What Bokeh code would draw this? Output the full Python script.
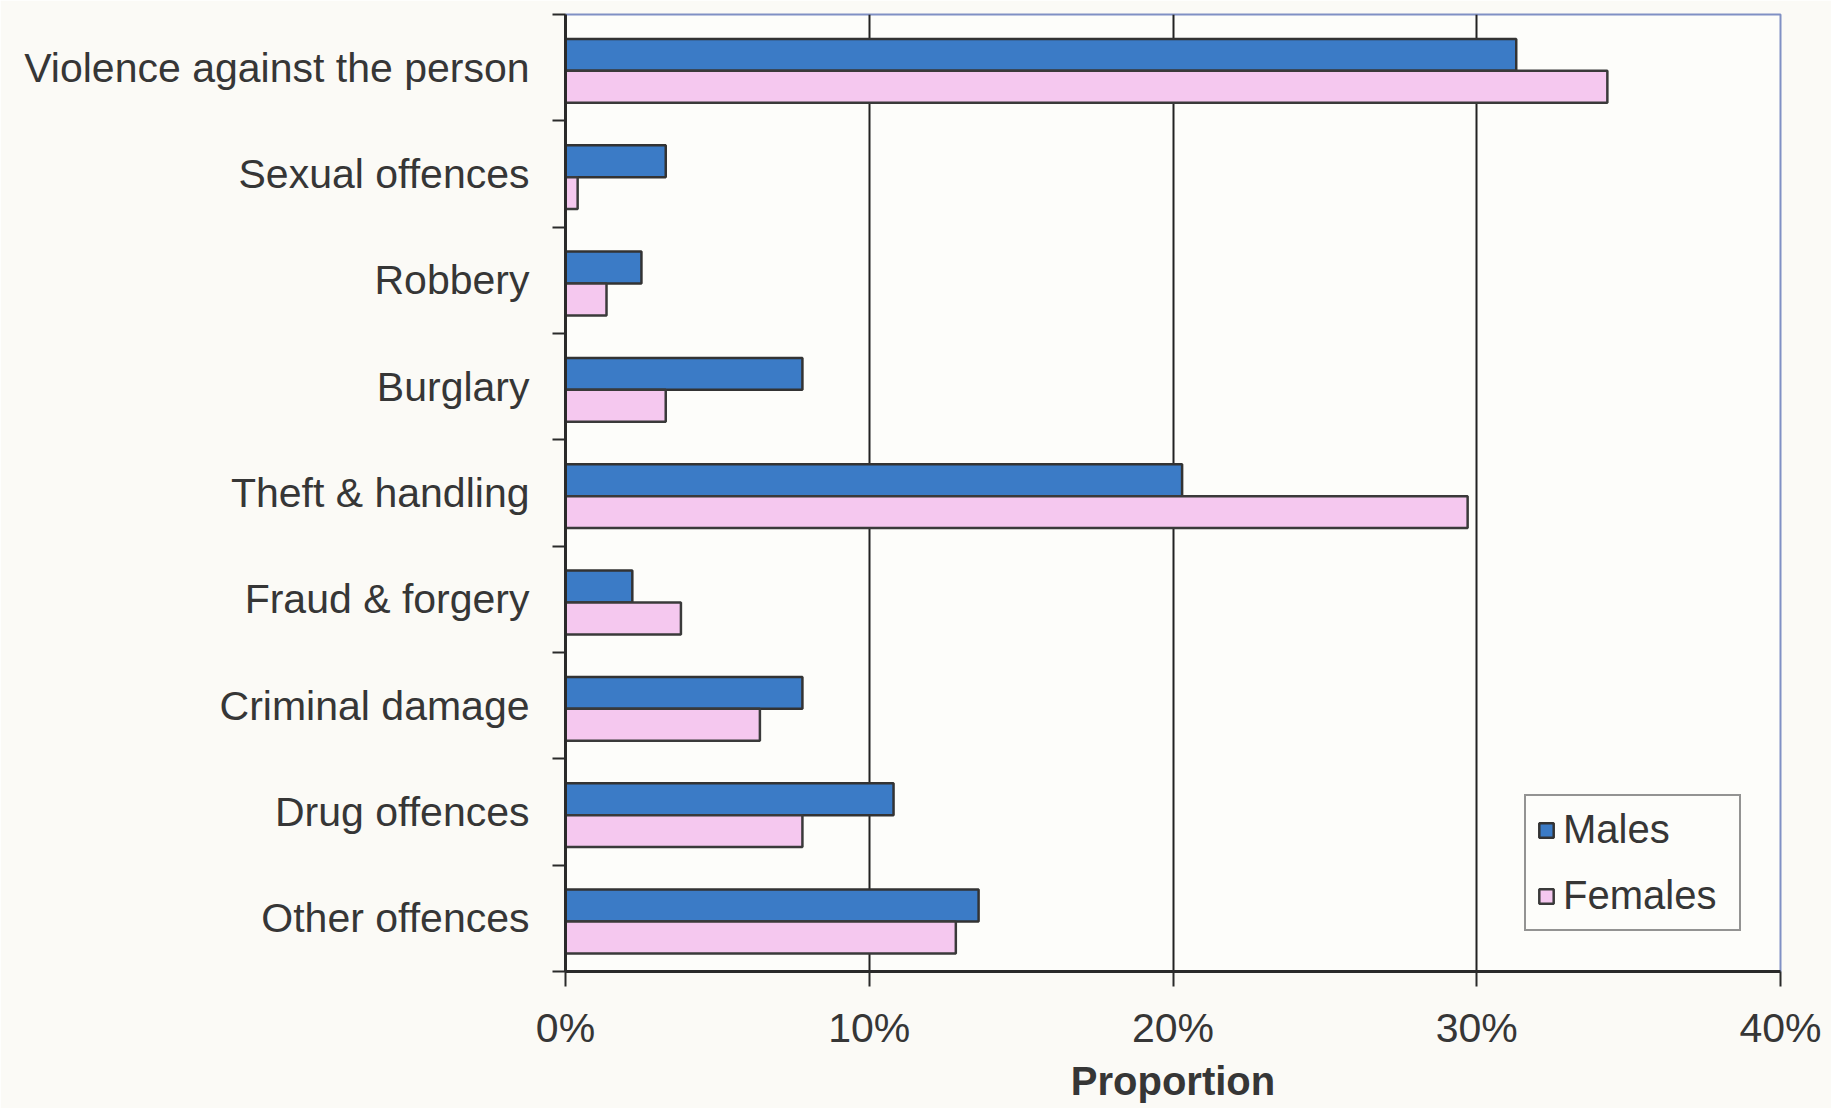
from bokeh.plotting import figure
from bokeh.models import (ColumnDataSource, Range1d, FixedTicker, PrintfTickFormatter,
                          Legend, LegendItem)
from bokeh.embed import file_html
from bokeh.resources import INLINE

# Offence categories, listed top to bottom
categories = [
    "Violence against the person",
    "Sexual offences",
    "Robbery",
    "Burglary",
    "Theft & handling",
    "Fraud & forgery",
    "Criminal damage",
    "Drug offences",
    "Other offences",
]
# Proportion of offences (%)
males = [31.3, 3.3, 2.5, 7.8, 20.3, 2.2, 7.8, 10.8, 13.6]
females = [34.3, 0.4, 1.35, 3.3, 29.7, 3.8, 6.4, 7.8, 12.85]
x_ticks = [0, 10, 20, 30, 40]

FONT = "Liberation Sans"
TEXT = "#363636"
n = len(categories)
centers = [n - i - 0.5 for i in range(n)]

src = ColumnDataSource(dict(
    cat=categories,
    y_m=[c + 0.12 for c in centers],
    y_f=[c - 0.18 for c in centers],
    males=males,
    females=females,
))

p = figure(width=1831, height=1108, output_backend="svg", toolbar_location=None,
           x_range=Range1d(0, 40), y_range=Range1d(0, n),
           min_border_left=565, min_border_right=51, min_border_top=14,
           min_border_bottom=137)

p.border_fill_color = "#fbfaf6"
p.background_fill_color = "#fdfdfa"
p.outline_line_color = "#8090c4"
p.outline_line_width = 2

# vertical gridlines at the interior percentages
p.xgrid.ticker = FixedTicker(ticks=[10, 20, 30])
p.xgrid.grid_line_color = "#222222"
p.xgrid.grid_line_width = 2
p.ygrid.grid_line_color = None

bar_h = 0.30
r_m = p.hbar(y="y_m", right="males", left=0, height=bar_h, source=src,
             fill_color="#3b7bc6", line_color="#333333", line_width=2.5)
r_f = p.hbar(y="y_f", right="females", left=0, height=bar_h, source=src,
             fill_color="#f5c8ef", line_color="#3a3a3a", line_width=2.5)

# x axis
p.xaxis.ticker = FixedTicker(ticks=x_ticks)
p.xaxis.formatter = PrintfTickFormatter(format="%d%%")
p.xaxis.axis_label = "Proportion"
p.xaxis.axis_label_text_font = FONT
p.xaxis.axis_label_text_font_style = "bold"
p.xaxis.axis_label_text_font_size = "40px"
p.xaxis.axis_label_text_color = TEXT
p.xaxis.axis_label_standoff = 5
p.xaxis.major_label_text_font = FONT
p.xaxis.major_label_text_font_size = "41px"
p.xaxis.major_label_text_color = TEXT
p.xaxis.major_label_standoff = 18
p.xaxis.axis_line_color = "#2a2a2a"
p.xaxis.axis_line_width = 3
p.xaxis.major_tick_line_color = "#2a2a2a"
p.xaxis.major_tick_line_width = 2
p.xaxis.major_tick_in = 0
p.xaxis.major_tick_out = 15
p.xaxis.minor_tick_line_color = None

# y axis: labels at category centres, tick marks at category boundaries
p.yaxis.ticker = FixedTicker(ticks=centers, minor_ticks=list(range(n + 1)))
p.yaxis.major_label_overrides = {c: categories[i] for i, c in enumerate(centers)}
p.yaxis.major_label_text_font = FONT
p.yaxis.major_label_text_font_size = "41px"
p.yaxis.major_label_text_color = TEXT
p.yaxis.major_label_standoff = 23
p.yaxis.major_tick_in = 0
p.yaxis.major_tick_out = 0
p.yaxis.minor_tick_in = 0
p.yaxis.minor_tick_out = 13
p.yaxis.minor_tick_line_color = "#2a2a2a"
p.yaxis.minor_tick_line_width = 2
p.yaxis.axis_line_color = "#2a2a2a"
p.yaxis.axis_line_width = 3

legend = Legend(items=[LegendItem(label="Males", renderers=[r_m]),
                       LegendItem(label="Females", renderers=[r_f])],
                location=(959, 40))
legend.label_text_font = FONT
legend.label_text_font_size = "40px"
legend.label_text_color = TEXT
legend.label_width = 165
legend.glyph_width = 18
legend.glyph_height = 18
legend.label_standoff = 8
legend.padding = 11
legend.spacing = 21
legend.margin = 0
legend.border_line_color = "#2a2a2a"
legend.border_line_width = 2
legend.background_fill_color = "#fdfdfa"
legend.background_fill_alpha = 1
p.add_layout(legend)

open("out.html", "w").write(file_html(p, INLINE))
